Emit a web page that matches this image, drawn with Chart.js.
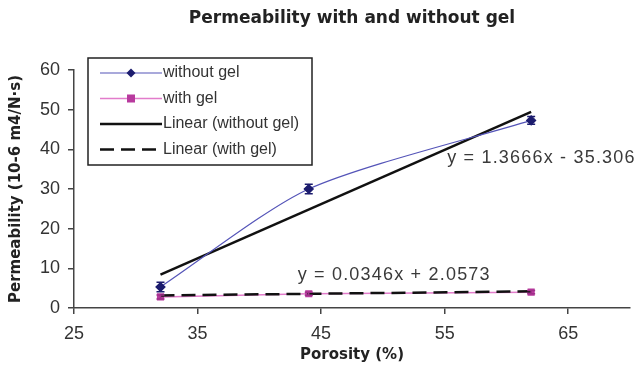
<!DOCTYPE html>
<html>
<head>
<meta charset="utf-8">
<script src="https://cdn.jsdelivr.net/npm/chart.js@4"></script>
<style>
  html, body { margin: 0; padding: 0; background: #fff; }
  #wrap { width: 639px; height: 379px; }
</style>
</head>
<body>
<div id="wrap"><canvas id="chartCanvas" width="639" height="379"></canvas></div>
<script>
// values
const porosity = [32, 44, 62];
const withoutGel = [5.3, 30.0, 47.3];
const withoutGelErr = [1.2, 1.2, 1.0];
const withGel = [2.8, 3.6, 4.0];
const withGelErr = [0.5, 0.4, 0.4];

// trend lines from the equations printed on the chart
const slopeWithout = 1.3666, interceptWithout = -35.306;
const slopeWith = 0.0346, interceptWith = 2.0573;

const xTicks = [25, 35, 45, 55, 65];
const yTicks = [0, 10, 20, 30, 40, 50, 60];

const labelFont = 'Liberation Sans, Arial, sans-serif';
const boldFont = 'DejaVu Sans, Verdana, sans-serif';

function points(xs, ys) {
    return xs.map((x, i) => ({ x: x, y: ys[i] }));
}

function trend(slope, intercept) {
    const x0 = porosity[0], x1 = porosity[porosity.length - 1];
    return [{ x: x0, y: slope * x0 + intercept }, { x: x1, y: slope * x1 + intercept }];
}

// draws the little error bars on the measured points
const errorBars = {
    id: 'errorBars',
    afterDatasetsDraw(chart) {
        const ctx = chart.ctx;
        const xs = chart.scales.x, ys = chart.scales.y;
        [[withoutGel, withoutGelErr, '#1c1c6e'], [withGel, withGelErr, '#a0308a']].forEach(([vals, errs, col]) => {
            ctx.save();
            ctx.strokeStyle = col;
            ctx.lineWidth = 1.5;
            vals.forEach((v, i) => {
                const px = xs.getPixelForValue(porosity[i]);
                const top = ys.getPixelForValue(v + errs[i]);
                const bot = ys.getPixelForValue(v - errs[i]);
                ctx.beginPath();
                ctx.moveTo(px, top); ctx.lineTo(px, bot);
                ctx.moveTo(px - 4, top); ctx.lineTo(px + 4, top);
                ctx.moveTo(px - 4, bot); ctx.lineTo(px + 4, bot);
                ctx.stroke();
            });
            ctx.restore();
        });
    }
};

// equation labels next to the trend lines
const equations = {
    id: 'equations',
    afterDatasetsDraw(chart) {
        const ctx = chart.ctx;
        const xs = chart.scales.x, ys = chart.scales.y;
        ctx.save();
        ctx.fillStyle = '#3a3a3a';
        ctx.font = '18px ' + labelFont;
        ctx.letterSpacing = '1.2px';
        ctx.textBaseline = 'middle';
        ctx.fillText('y = 1.3666x - 35.306', xs.getPixelForValue(55.2), ys.getPixelForValue(37.8));
        ctx.fillText('y = 0.0346x + 2.0573', xs.getPixelForValue(43.1), ys.getPixelForValue(8.3));
        ctx.restore();
    }
};

// boxed legend sitting inside the plot, like the Excel one
const boxLegend = {
    id: 'boxLegend',
    afterDraw(chart) {
        const ctx = chart.ctx;
        const area = chart.chartArea;
        const left = area.left + 14, top = area.top - 12;
        const w = 224, h = 107;
        ctx.save();
        ctx.fillStyle = '#fff';
        ctx.fillRect(left, top, w, h);
        ctx.strokeStyle = '#222';
        ctx.lineWidth = 1.5;
        ctx.strokeRect(left, top, w, h);
        ctx.font = '16px ' + labelFont;
        ctx.textBaseline = 'middle';
        chart.data.datasets.forEach((ds, i) => {
            const y = top + 15 + i * 25.5;
            const x0 = left + 12, x1 = left + 74;
            ctx.strokeStyle = ds.borderColor;
            ctx.lineWidth = ds.borderWidth;
            ctx.setLineDash(ds.borderDash || []);
            ctx.beginPath();
            ctx.moveTo(x0, y); ctx.lineTo(x1, y);
            ctx.stroke();
            ctx.setLineDash([]);
            if (ds.pointRadius > 0) {
                ctx.fillStyle = ds.pointBackgroundColor;
                const mx = (x0 + x1) / 2;
                if (ds.pointStyle === 'rectRot') {
                    ctx.beginPath();
                    ctx.moveTo(mx, y - 4.5); ctx.lineTo(mx + 4.5, y);
                    ctx.lineTo(mx, y + 4.5); ctx.lineTo(mx - 4.5, y);
                    ctx.closePath(); ctx.fill();
                } else {
                    ctx.fillRect(mx - 4, y - 4, 8, 8);
                }
            }
            ctx.fillStyle = '#333';
            ctx.fillText(ds.label, x1 + 1, y);
        });
        ctx.restore();
    }
};

const ctx = document.getElementById('chartCanvas');

window.myChart = new Chart(ctx, {
    type: 'scatter',
    data: {
        datasets: [{
            label: 'without gel',
            data: points(porosity, withoutGel),
            showLine: true,
            tension: 0.25,
            borderColor: '#5454b8',
            borderWidth: 1.2,
            pointStyle: 'rectRot',
            pointRadius: 4.5,
            pointBackgroundColor: '#1c1c6e',
            pointBorderColor: '#1c1c6e',
            order: 1
        }, {
            label: 'with gel',
            data: points(porosity, withGel),
            showLine: true,
            borderColor: '#e27ccb',
            borderWidth: 1.5,
            pointStyle: 'rect',
            pointRadius: 4,
            pointBackgroundColor: '#b83a9e',
            pointBorderColor: '#b83a9e',
            order: 2
        }, {
            label: 'Linear (without gel)',
            data: trend(slopeWithout, interceptWithout),
            showLine: true,
            borderColor: '#111',
            borderWidth: 2.5,
            pointRadius: 0,
            order: 3
        }, {
            label: 'Linear (with gel)',
            data: trend(slopeWith, interceptWith),
            showLine: true,
            borderColor: '#111',
            borderWidth: 2.5,
            borderDash: [14, 7],
            pointRadius: 0,
            order: 0
        }]
    },
    options: {
        responsive: false,
        animation: false,
        layout: { padding: { left: 0, right: 9, top: 0, bottom: 0 } },
        plugins: {
            legend: { display: false },
            tooltip: { enabled: false },
            title: {
                display: true,
                fullSize: false,
                text: 'Permeability with and without gel',
                color: '#222',
                font: { family: boldFont, size: 17, weight: 'bold', lineHeight: 1.2 },
                padding: { top: 8, bottom: 41.6 }
            }
        },
        scales: {
            x: {
                type: 'linear',
                min: 25,
                max: 70,
                afterBuildTicks: (axis) => { axis.ticks = xTicks.map(v => ({ value: v })); },
                afterFit: (axis) => { axis.height = 71; },
                border: { color: '#444', width: 1.5 },
                grid: { drawOnChartArea: false, tickLength: 6, color: '#444', lineWidth: 1.5 },
                ticks: { color: '#333', font: { family: labelFont, size: 18 }, padding: 9, maxRotation: 0 },
                title: {
                    display: true,
                    text: 'Porosity (%)',
                    color: '#222',
                    font: { family: boldFont, size: 15, weight: 'bold' },
                    padding: { top: 0, bottom: 15 }
                }
            },
            y: {
                min: 0,
                max: 60,
                afterBuildTicks: (axis) => { axis.ticks = yTicks.map(v => ({ value: v })); },
                afterFit: (axis) => { axis.width = 74; },
                border: { color: '#444', width: 1.5 },
                grid: { drawOnChartArea: false, tickLength: 6, color: '#444', lineWidth: 1.5 },
                ticks: { color: '#333', font: { family: labelFont, size: 18 }, padding: 8 },
                title: {
                    display: true,
                    text: 'Permeability (10-6 m4/N·s)',
                    color: '#222',
                    font: { family: boldFont, size: 15, weight: 'bold' },
                    padding: { top: 7, bottom: 0 }
                }
            }
        }
    },
    plugins: [errorBars, equations, boxLegend]
});
</script>
</body>
</html>
